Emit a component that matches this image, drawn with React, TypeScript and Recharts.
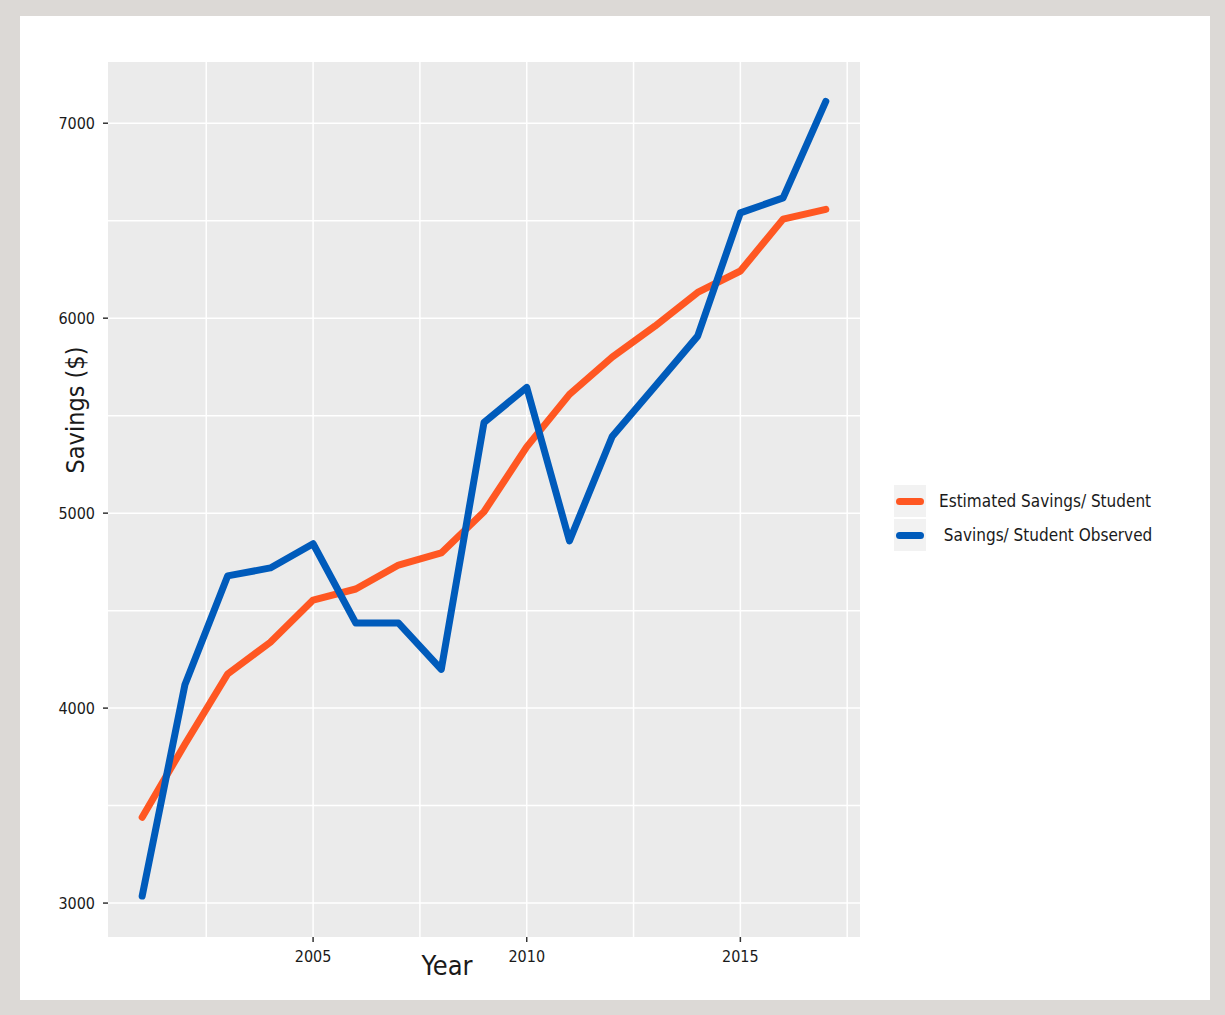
import { LineChart, Line, XAxis, YAxis, CartesianGrid } from 'recharts';

const years = [2001, 2002, 2003, 2004, 2005, 2006, 2007, 2008, 2009, 2010, 2011, 2012, 2013, 2014, 2015, 2016, 2017];
const estimated = [3440, 3815, 4175, 4338, 4554, 4611, 4734, 4796, 5007, 5340, 5609, 5800, 5959, 6132, 6242, 6508, 6558];
const observed = [3036, 4120, 4678, 4719, 4843, 4436, 4436, 4199, 5465, 5645, 4858, 5393, 5650, 5908, 6540, 6617, 7112];

const xTicks = [2005, 2010, 2015];
const yTicks = [3000, 4000, 5000, 6000, 7000];
const xGrid = [2002.5, 2005, 2007.5, 2010, 2012.5, 2015, 2017.5];
const yGrid = [3000, 3500, 4000, 4500, 5000, 5500, 6000, 6500, 7000];

const seriesNames = ['Estimated Savings/ Student', ' Savings/ Student Observed'];
const seriesColors = ['#FF5722', '#005BBB'];

const data = years.map((y, i) => ({ year: y, est: estimated[i], obs: observed[i] }));

const font = "'DejaVu Sans Condensed', 'Liberation Sans Narrow', Roboto, sans-serif";

const LegendBox = () => (
  <div style={{ position: 'absolute', left: 894, top: 484, fontFamily: font }}>
    {seriesNames.map((n, i) => (
      <div key={n} style={{ display: 'flex', alignItems: 'center', height: 34 }}>
        <div style={{ width: 32, height: 32, background: '#f2f2f2', display: 'flex', alignItems: 'center', justifyContent: 'center' }}>
          <div style={{ width: 28, height: 7, borderRadius: 4, background: seriesColors[i] }} />
        </div>
        <span style={{ marginLeft: 13, fontSize: 17, color: '#1a1a1a', whiteSpace: 'pre' }}>{n}</span>
      </div>
    ))}
  </div>
);

export default function App() {
  return (
    <div style={{ position: 'absolute', left: 0, top: 0, width: 1225, height: 1015, background: '#dcd9d6' }}>
      <div style={{ position: 'absolute', left: 20, top: 16, width: 1190, height: 984, background: '#ffffff' }} />
      <div style={{ position: 'absolute', left: 0, top: 0 }}>
        <LineChart width={1225} height={1015} data={data} margin={{ top: 62, right: 365, left: 48, bottom: 48 }}>
          <CartesianGrid
            fill="#ebebeb"
            stroke="#ffffff"
            strokeWidth={1.5}
            verticalValues={xGrid}
            horizontalValues={yGrid}
          />
          <XAxis
            dataKey="year"
            type="number"
            domain={[2000.2, 2017.8]}
            ticks={xTicks}
            height={30}
            axisLine={false}
            tickLine={{ stroke: '#333333', strokeWidth: 1.5 }}
            tickSize={5}
            tickMargin={9}
            tick={{ fontSize: 16, fill: '#1a1a1a', fontFamily: font }}
          />
          <YAxis
            type="number"
            domain={[2826, 7314]}
            ticks={yTicks}
            width={60}
            axisLine={false}
            tickLine={{ stroke: '#333333', strokeWidth: 1.5 }}
            tickSize={5}
            tickMargin={8}
            tick={{ fontSize: 16, fill: '#1a1a1a', fontFamily: font }}
            allowDataOverflow
          />
          <Line
            dataKey="est"
            name={seriesNames[0]}
            stroke={seriesColors[0]}
            strokeWidth={7}
            strokeLinecap="round"
            strokeLinejoin="round"
            dot={false}
            isAnimationActive={false}
          />
          <Line
            dataKey="obs"
            name={seriesNames[1]}
            stroke={seriesColors[1]}
            strokeWidth={7}
            strokeLinecap="round"
            strokeLinejoin="round"
            dot={false}
            isAnimationActive={false}
          />
          <text x={75} y={410} transform="rotate(-90 75 410)" textAnchor="middle" dominantBaseline="central" fontSize={25} fill="#1a1a1a" fontFamily={font}>
            Savings ($)
          </text>
          <text x={447} y={965} textAnchor="middle" dominantBaseline="central" fontSize={27} fill="#1a1a1a" fontFamily={font}>
            Year
          </text>
        </LineChart>
      </div>
      <LegendBox />
    </div>
  );
}
